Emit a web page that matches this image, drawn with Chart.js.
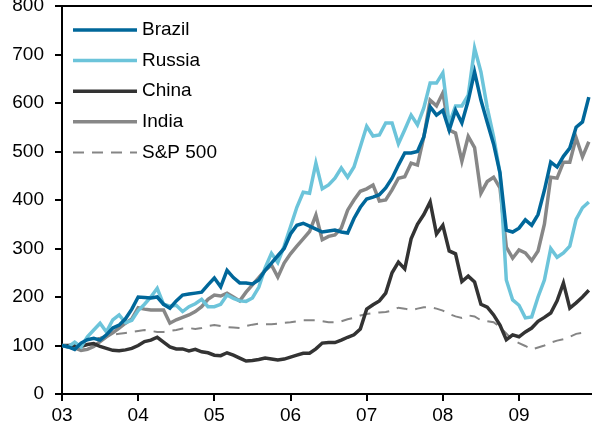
<!DOCTYPE html>
<html>
<head>
<meta charset="utf-8">
<script src="https://cdn.jsdelivr.net/npm/chart.js@4"></script>
<style>
  html, body { margin: 0; padding: 0; background: #fff; }
  #wrap { width: 592px; height: 428px; }
</style>
</head>
<body>
<div id="wrap"><canvas id="bricChart" width="592" height="428"></canvas></div>
<script>
// monthly index levels, Jan 2003 = 100
const yearLabels = ['03', '04', '05', '06', '07', '08', '09'];

const brazil = [100, 97, 92, 105, 112, 115, 111, 122, 136, 142,
    155, 175, 200, 199, 198, 200, 185, 177, 192, 204,
    206, 208, 210, 225, 239, 221, 255, 240, 229, 229,
    227, 235, 255, 270, 285, 300, 330, 348, 352, 346,
    340, 334, 336, 338, 334, 332, 362, 385, 402, 406,
    411, 425, 445, 472, 497, 497, 500, 530, 592, 575,
    585, 544, 585, 559, 605, 664, 606, 560, 515, 456,
    338, 334, 342, 359, 348, 370, 420, 478, 468, 490,
    507, 550, 561, 612];

const russia = [100, 97, 107, 97, 118, 132, 146, 128, 153, 163,
    147, 152, 172, 185, 200, 218, 185, 181, 183, 170,
    180, 186, 195, 180, 180, 185, 204, 197, 192, 191,
    198, 220, 260, 290, 271, 305, 345, 385, 416, 414,
    476, 423, 431, 445, 466, 447, 468, 510, 552, 532,
    534, 559, 559, 516, 545, 575, 555, 590, 641, 641,
    662, 557, 594, 594, 616, 713, 664, 590, 530, 456,
    235, 194, 183, 157, 159, 200, 235, 300, 282, 291,
    305, 360, 384, 396];

const china = [100, 100, 101, 98, 102, 104, 98, 94, 90, 89,
    91, 94, 100, 108, 111, 117, 107, 97, 93, 93,
    89, 92, 87, 85, 80, 79, 85, 80, 74, 68,
    69, 71, 74, 72, 70, 72, 76, 80, 84, 84,
    93, 105, 106, 106, 111, 117, 122, 134, 175, 184,
    192, 208, 250, 272, 258, 320, 350, 370, 396, 330,
    348, 295, 289, 232, 243, 231, 185, 179, 163, 142,
    112, 122, 118, 128, 136, 150, 158, 167, 192, 229,
    177, 188, 200, 214];

const india = [100, 97, 95, 90, 92, 98, 108, 118, 126, 136,
    146, 155, 178, 175, 173, 173, 173, 146, 153, 158,
    163, 170, 180, 195, 204, 202, 208, 200, 192, 210,
    225, 240, 255, 266, 241, 270, 289, 305, 320, 335,
    369, 318, 325, 328, 342, 379, 400, 418, 423, 431,
    398, 400, 421, 445, 448, 476, 472, 530, 606, 594,
    621, 544, 538, 480, 531, 508, 414, 438, 447, 425,
    303, 280, 297, 291, 275, 295, 350, 447, 445, 478,
    478, 528, 489, 520];

const sp500 = [100, 97, 96, 105, 112, 113, 116, 120, 122, 124,
    126, 128, 130, 132, 130, 128, 128, 130, 132, 135,
    136, 134, 136, 140, 142, 140, 138, 137, 136, 140,
    143, 145, 144, 144, 145, 147, 148, 150, 152, 152,
    152, 150, 148, 148, 150, 154, 157, 162, 165, 167,
    168, 169, 172, 178, 176, 173, 176, 179, 179, 176,
    172, 165, 160, 157, 162, 160, 152, 150, 148, 138,
    125, 111, 105, 99, 92, 96, 100, 106, 110, 113,
    118, 124, 126, 122];

const FONT = '"Liberation Sans", Arial, Helvetica, sans-serif';

function toPoints(arr) {
    return arr.map((v, i) => ({ x: i, y: v }));
}

// legend drawn inside the plot, top left
const insideLegend = {
    id: 'insideLegend',
    afterDraw(chart) {
        const { ctx, chartArea } = chart;
        ctx.save();
        ctx.font = '19px ' + FONT;
        ctx.textBaseline = 'middle';
        ctx.fillStyle = '#000';
        chart.data.datasets.forEach((ds, k) => {
            const y = chartArea.top + 24 + k * 30.6;
            const x0 = chartArea.left + 11;
            ctx.beginPath();
            ctx.strokeStyle = ds.borderColor;
            ctx.lineWidth = ds.borderWidth;
            ctx.setLineDash(ds.borderDash || []);
            ctx.moveTo(x0, y);
            ctx.lineTo(x0 + 64, y);
            ctx.stroke();
            ctx.setLineDash([]);
            ctx.fillText(ds.label, x0 + 69, y);
        });
        // top frame line
        ctx.beginPath();
        ctx.strokeStyle = '#000';
        ctx.lineWidth = 2;
        ctx.moveTo(chartArea.left, chartArea.top);
        ctx.lineTo(chart.width, chartArea.top);
        ctx.stroke();
        ctx.restore();
    }
};

const ctx = document.getElementById('bricChart');
new Chart(ctx, {
    type: 'line',
    data: {
        datasets: [
            { label: 'Brazil', data: toPoints(brazil), borderColor: '#00679a', borderWidth: 3.5 },
            { label: 'Russia', data: toPoints(russia), borderColor: '#6cc4da', borderWidth: 3.5 },
            { label: 'China', data: toPoints(china), borderColor: '#333333', borderWidth: 3.5 },
            { label: 'India', data: toPoints(india), borderColor: '#878787', borderWidth: 3.5 },
            { label: 'S&P 500', data: toPoints(sp500), borderColor: '#858585', borderWidth: 2, borderDash: [11, 8] }
        ]
    },
    options: {
        responsive: false,
        animation: false,
        layout: { padding: { top: 6, right: 0, bottom: 0, left: 0 } },
        elements: {
            point: { radius: 0 },
            line: { tension: 0, borderCapStyle: 'butt', borderJoinStyle: 'miter' }
        },
        plugins: {
            legend: { display: false },
            tooltip: { enabled: false }
        },
        scales: {
            x: {
                type: 'linear',
                min: 0,
                max: 83.5,
                border: { display: true, color: '#000', width: 2 },
                grid: { drawOnChartArea: false, drawTicks: true, tickLength: 7, color: '#000', lineWidth: 2 },
                ticks: {
                    color: '#000',
                    padding: 3,
                    maxRotation: 0,
                    font: { family: FONT, size: 19 },
                    callback: (value) => yearLabels[value / 12]
                },
                afterBuildTicks: (scale) => {
                    scale.ticks = yearLabels.map((_, k) => ({ value: k * 12 }));
                },
                afterFit: (scale) => {
                    scale.height = 34;
                    scale.paddingLeft = 0;
                    scale.paddingRight = 0;
                }
            },
            y: {
                min: 0,
                max: 800,
                border: { display: true, color: '#000', width: 2 },
                grid: { drawOnChartArea: false, drawTicks: true, tickLength: 7, color: '#000', lineWidth: 2 },
                ticks: {
                    stepSize: 100,
                    color: '#000',
                    padding: 11,
                    font: { family: FONT, size: 19 }
                },
                afterFit: (scale) => {
                    scale.width = 62;
                    scale.paddingTop = 0;
                    scale.paddingBottom = 0;
                }
            }
        }
    },
    plugins: [insideLegend]
});
</script>
</body>
</html>
